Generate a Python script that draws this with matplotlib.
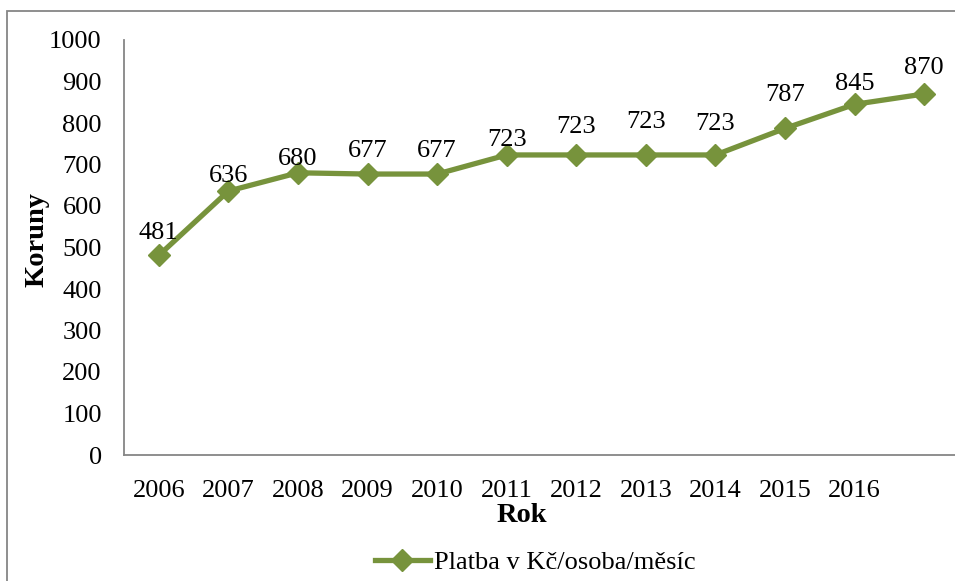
import matplotlib.pyplot as plt
from matplotlib.patches import Rectangle

# monthly payment per person, CZK
roky = ['2006', '2007', '2008', '2009', '2010', '2011',
        '2012', '2013', '2014', '2015', '2016', '']
platba = [481, 636, 680, 677, 677, 723, 723, 723, 723, 787, 845, 870]
yticks = list(range(0, 1001, 100))

# label lift above each point, pixels
label_lift = [22, 15, 14, 23, 23, 15, 28, 33, 31, 33, 20, 26]

green = '#77933C'
grey = '#868686'
plt.rcParams['font.family'] = ['Liberation Serif', 'DejaVu Serif']

dpi = 100
fig = plt.figure(figsize=(9.55, 5.81), dpi=dpi)
W, H = 955, 581

# outer chart frame
fig.patches.append(Rectangle((7 / W, -0.05), 1.1, 1 - 11 / H + 0.05,
                             transform=fig.transFigure, fill=False,
                             edgecolor=grey, linewidth=1.3))

ax = fig.add_axes([124 / W, 1 - 455 / H, 835 / W, 415 / H])
x = list(range(len(platba)))
ax.plot(x, platba, color=green, linewidth=3.8, marker='D', markersize=11,
        label='Platba v Kč/osoba/měsíc')

for xi, v, lift in zip(x, platba, label_lift):
    ax.annotate(str(v), (xi, v), xytext=(0, lift * 72 / dpi),
                textcoords='offset points', ha='center', va='center',
                fontsize=19)

ax.set_xlim(-0.5, len(platba) - 0.5)
ax.set_ylim(0, 1000)
ax.set_xticks(x)
ax.set_xticklabels(roky)
ax.set_yticks(yticks)
ax.tick_params(axis='both', length=0, labelsize=19)
ax.tick_params(axis='y', pad=16)
ax.tick_params(axis='x', pad=18)

for s in ['top', 'right']:
    ax.spines[s].set_visible(False)
for s in ['left', 'bottom']:
    ax.spines[s].set_color(grey)
    ax.spines[s].set_linewidth(1.3)

fig.text(37 / W, 1 - 240 / H, 'Koruny', rotation=90, ha='center', va='center',
         fontsize=20.5, fontweight='bold')
fig.text(522 / W, 1 - 515 / H, 'Rok', ha='center', va='center',
         fontsize=20.5, fontweight='bold')

fig.legend(loc='center', bbox_to_anchor=(535 / W, 1 - 562 / H), frameon=False,
           fontsize=19, handlelength=2.1, handletextpad=0.15,
           borderaxespad=0)

fig.savefig('out.png', dpi=dpi)
